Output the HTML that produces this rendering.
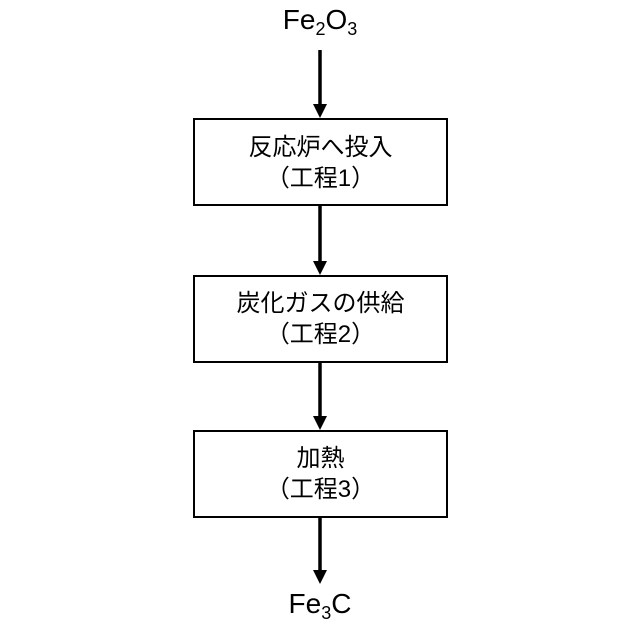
<!DOCTYPE html>
<html><head><meta charset="utf-8"><style>
body{margin:0;width:640px;height:640px;background:#fff;position:relative;overflow:hidden;font-family:"Liberation Sans","Noto Sans CJK JP",sans-serif;color:#000}
.box{position:absolute;left:193px;width:251px;border:2px solid #000;box-sizing:content-box;text-align:center;font-size:24px;line-height:31px}
.lbl{position:absolute;left:0;width:640px;text-align:center;font-size:28px}
sub{font-size:18px;vertical-align:-6px;line-height:0}
</style></head><body>
<div class="lbl" style="top:4px">Fe<sub>2</sub>O<sub>3</sub></div>
<div class="box" style="top:118px;height:84px;padding-top:0"><div style="padding-top:12px">反応炉へ投入<br>（工程1）</div></div>
<div class="box" style="top:275px;height:84px"><div style="padding-top:11px">炭化ガスの供給<br>（工程2）</div></div>
<div class="box" style="top:430px;height:84px"><div style="padding-top:11px">加熱<br>（工程3）</div></div>
<div class="lbl" style="top:588px">Fe<sub>3</sub>C</div>
<svg width="640" height="640" style="position:absolute;left:0;top:0">
<g stroke="#000" stroke-width="3.5">
<line x1="320" y1="50" x2="320" y2="106"/>
<line x1="320" y1="205" x2="320" y2="263"/>
<line x1="320" y1="362" x2="320" y2="418"/>
<line x1="320" y1="517" x2="320" y2="572"/>
</g>
<g fill="#000">
<polygon points="313,104 327,104 320,118"/>
<polygon points="313,261 327,261 320,275"/>
<polygon points="313,416 327,416 320,430"/>
<polygon points="313,570 327,570 320,584"/>
</g>
</svg>
</body></html>
